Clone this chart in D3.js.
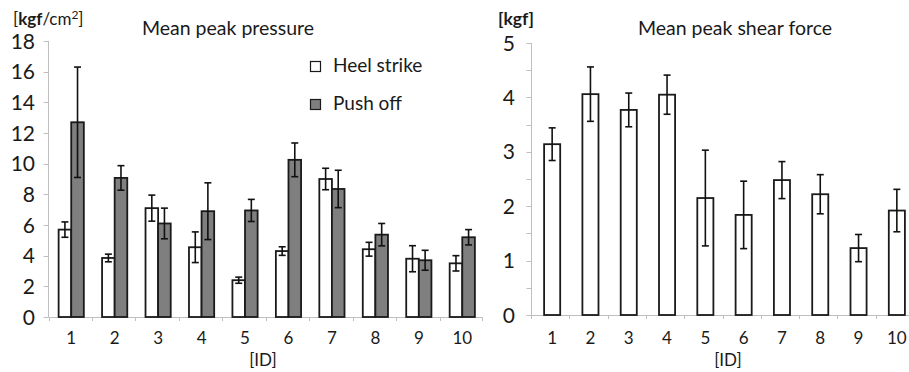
<!DOCTYPE html>
<html><head><meta charset="utf-8">
<script src="https://cdn.jsdelivr.net/npm/d3@7"></script>
<style>
body{margin:0;background:#fff;}
svg{display:block;font-family:Lato, "Noto Sans", sans-serif;}
</style></head>
<body>
<svg id="c" width="909" height="372"></svg>
<script>
const ids = ["1","2","3","4","5","6","7","8","9","10"];
const heelMean = [5.7, 3.85, 7.1, 4.55, 2.4, 4.3, 9.0, 4.42, 3.8, 3.5];
const heelErr  = [0.5, 0.25, 0.85, 1.0, 0.2, 0.28, 0.7, 0.45, 0.85, 0.5];
const pushMean = [12.7, 9.07, 6.1, 6.9, 6.95, 10.25, 8.35, 5.37, 3.7, 5.2];
const pushErr  = [3.6, 0.8, 1.0, 1.85, 0.72, 1.1, 1.22, 0.73, 0.65, 0.5];
const shearMean = [3.14, 4.06, 3.77, 4.05, 2.15, 1.84, 2.48, 2.22, 1.23, 1.92];
const shearErr  = [0.3, 0.5, 0.31, 0.36, 0.88, 0.62, 0.34, 0.36, 0.25, 0.39];
const leftTicks = [0,2,4,6,8,10,12,14,16,18];
const rightTicks = [0,1,2,3,4,5];
const rightMinorTicks = [0,0.5,1,1.5,2,2.5,3,3.5,4,4.5,5];
const legendLabels = ["Heel strike","Push off"];

const svg = d3.select("#c");
const axisColor = "#bfbfbf", barStroke = "#1a1a1a", gray = "#7f7f7f", txt = "#1a1a1a";

function drawErr(g, x, yScale, m, e, cap){
  g.append("line").attr("x1",x).attr("x2",x).attr("y1",yScale(m+e)).attr("y2",yScale(m-e))
    .attr("stroke","#111").attr("stroke-width",1.6);
  [m+e, m-e].forEach(v=>{
    g.append("line").attr("x1",x-cap/2).attr("x2",x+cap/2).attr("y1",yScale(v)).attr("y2",yScale(v))
      .attr("stroke","#111").attr("stroke-width",1.6);
  });
}

// ---------- Left chart ----------
{
  const x = d3.scaleBand().domain(ids).range([48.5, 483]).paddingInner(0).paddingOuter(0);
  const y = d3.scaleLinear().domain([0,18]).range([317, 41]);
  const g = svg.append("g");
  g.append("line").attr("x1",48.5).attr("x2",48.5).attr("y1",y(18)).attr("y2",y(0)).attr("stroke",axisColor);
  leftTicks.forEach(t=>{
    g.append("line").attr("x1",43.5).attr("x2",48.5).attr("y1",Math.round(y(t))+0.5).attr("y2",Math.round(y(t))+0.5).attr("stroke",axisColor);
    g.append("text").attr("x",35).attr("y",y(t)).attr("dy","0.36em").attr("text-anchor","end")
      .attr("font-size",21).attr("fill",txt).text(t);
  });
  g.append("line").attr("x1",48.5).attr("x2",483).attr("y1",y(0)+0.5).attr("y2",y(0)+0.5).attr("stroke",axisColor);
  ids.forEach((d,i)=>{
    const xx = Math.round(x(d))+0.5;
    g.append("line").attr("x1",xx).attr("x2",xx).attr("y1",y(0)).attr("y2",y(0)+4).attr("stroke",axisColor);
    g.append("text").attr("x",x(d)+x.bandwidth()/2+1).attr("y",344).attr("text-anchor","middle")
      .attr("font-size",17).attr("fill",txt).text(d);
  });
  g.append("line").attr("x1",482.5).attr("x2",482.5).attr("y1",y(0)).attr("y2",y(0)+4).attr("stroke",axisColor);
  const bw = x.bandwidth()*0.29;
  ids.forEach((d,i)=>{
    const c = x(d)+x.bandwidth()/2+1;
    g.append("rect").attr("x",c-bw).attr("y",y(heelMean[i])).attr("width",bw).attr("height",y(0)-y(heelMean[i]))
      .attr("fill","#fff").attr("stroke",barStroke).attr("stroke-width",1.8);
    g.append("rect").attr("x",c).attr("y",y(pushMean[i])).attr("width",bw).attr("height",y(0)-y(pushMean[i]))
      .attr("fill",gray).attr("stroke",barStroke).attr("stroke-width",1.8);
    drawErr(g, c-bw/2, y, heelMean[i], heelErr[i], 7);
    drawErr(g, c+bw/2, y, pushMean[i], pushErr[i], 7);
  });
  g.append("text").attr("x",13).attr("y",25).attr("font-size",17).attr("fill",txt)
    .html('[<tspan font-weight="bold">kgf</tspan>/cm<tspan dy="-6" font-size="12">2</tspan><tspan dy="6">]</tspan>');
  g.append("text").attr("x",228).attr("y",35).attr("text-anchor","middle").attr("font-size",19.5).attr("fill",txt).text("Mean peak pressure");
  g.append("text").attr("x",263).attr("y",366).attr("text-anchor","middle").attr("font-size",17).attr("fill",txt).text("[ID]");
  legendLabels.forEach((l,i)=>{
    const ly = 61 + i*38;
    g.append("rect").attr("x",310.5).attr("y",ly+0.5).attr("width",10).attr("height",10)
      .attr("fill", i===0?"#fff":gray).attr("stroke",barStroke).attr("stroke-width",1.2);
    g.append("text").attr("x",333).attr("y",ly+11).attr("font-size",19).attr("fill",txt).text(l);
  });
}

// ---------- Right chart ----------
{
  const x = d3.scaleBand().domain(ids).range([531, 914]);
  const y = d3.scaleLinear().domain([0,5]).range([315, 43]);
  const g = svg.append("g");
  g.append("line").attr("x1",531.5).attr("x2",531.5).attr("y1",y(5)).attr("y2",y(0)).attr("stroke",axisColor);
  rightMinorTicks.forEach(t=>{
    g.append("line").attr("x1",526.5).attr("x2",531.5).attr("y1",Math.round(y(t))+0.5).attr("y2",Math.round(y(t))+0.5).attr("stroke",axisColor);
  });
  rightTicks.forEach(t=>{
    g.append("text").attr("x",515).attr("y",y(t)).attr("dy","0.36em").attr("text-anchor","end")
      .attr("font-size",21).attr("fill",txt).text(t);
  });
  g.append("line").attr("x1",531).attr("x2",914).attr("y1",y(0)+0.5).attr("y2",y(0)+0.5).attr("stroke",axisColor);
  ids.forEach((d,i)=>{
    const xx = Math.round(x(d))+0.5;
    g.append("line").attr("x1",xx).attr("x2",xx).attr("y1",y(0)).attr("y2",y(0)+4).attr("stroke",axisColor);
    g.append("text").attr("x",Math.min(x(d)+x.bandwidth()/2+2, 898)).attr("y",344).attr("text-anchor","middle")
      .attr("font-size",17).attr("fill",txt).text(d);
  });
  const bw = x.bandwidth()*0.42;
  ids.forEach((d,i)=>{
    const c = x(d)+x.bandwidth()/2+2;
    g.append("rect").attr("x",c-bw/2).attr("y",y(shearMean[i])).attr("width",bw).attr("height",y(0)-y(shearMean[i]))
      .attr("fill","#fff").attr("stroke",barStroke).attr("stroke-width",1.8);
    drawErr(g, c, y, shearMean[i], shearErr[i], 7);
  });
  g.append("text").attr("x",498).attr("y",25).attr("font-size",17.5).attr("fill",txt).attr("font-weight","bold").text("[kgf]");
  g.append("text").attr("x",735).attr("y",35).attr("text-anchor","middle").attr("font-size",19.5).attr("fill",txt).text("Mean peak shear force");
  g.append("text").attr("x",728).attr("y",366).attr("text-anchor","middle").attr("font-size",17).attr("fill",txt).text("[ID]");
}
</script>
</body></html>
